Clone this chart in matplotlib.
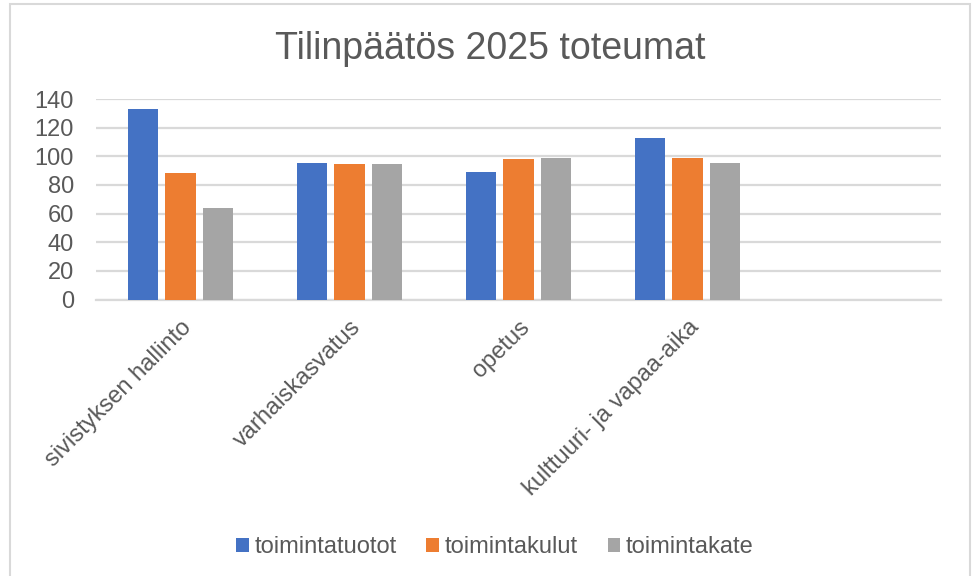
import matplotlib
matplotlib.use("Agg")
import numpy as np
import matplotlib.pyplot as plt
from matplotlib.patches import Rectangle

# ------------------------------------------------------------------ #
#  Data                                                                #
# ------------------------------------------------------------------ #
categories = ["sivistyksen hallinto", "varhaiskasvatus", "opetus",
              "kulttuuri- ja vapaa-aika", ""]
series_names = ["toimintatuotot", "toimintakulut", "toimintakate"]
toimintatuotot = [133, 95.5, 89, 113, np.nan]
toimintakulut = [88.5, 94.5, 98, 99, np.nan]
toimintakate = [64, 94.5, 99, 95.5, np.nan]
y_ticks = [0, 20, 40, 60, 80, 100, 120, 140]

colors = ["#4472C4", "#ED7D31", "#A5A5A5"]
text_color = "#595959"
grid_color = "#D9D9D9"

plt.rcParams["font.family"] = ["Liberation Sans", "DejaVu Sans"]

fig = plt.figure(figsize=(9.74, 5.76), dpi=100)
ax = fig.add_axes([96 / 974, 1 - 299.5 / 576, 845 / 974, 200.5 / 576])

x = np.arange(len(categories))
width = 0.178
offset = 0.222
for i, (vals, name) in enumerate(zip([toimintatuotot, toimintakulut, toimintakate],
                                     series_names)):
    ax.bar(x + (i - 1) * offset, vals, width=width, color=colors[i],
           label=name, zorder=3)

ax.set_xlim(-0.5, len(categories) - 0.5)
ax.set_ylim(0, 140)
ax.set_yticks(y_ticks)
ax.yaxis.grid(True, color=grid_color, linewidth=1.6, zorder=0)
for s in ["top", "right", "left"]:
    ax.spines[s].set_visible(False)
ax.spines["bottom"].set_color(grid_color)
ax.spines["bottom"].set_linewidth(1.6)

ax.tick_params(axis="y", length=0, pad=16, labelsize=17, labelcolor=text_color)
ax.tick_params(axis="x", length=0, pad=12, labelsize=17, labelcolor=text_color)
ax.set_xticks(x)
ax.set_xticklabels(categories, rotation=45, ha="right", rotation_mode="anchor")

fig.text(0.5 + 3 / 974, 1 - 59 / 576, "Tilinpäätös 2025 toteumat", ha="center",
         va="baseline", fontsize=27, color=text_color)

leg = fig.legend(loc="center", bbox_to_anchor=(0.5 + 8 / 974, 1 - 547 / 576), ncol=3,
                 frameon=False, fontsize=17, handlelength=0.53, handleheight=0.53,
                 handletextpad=0.25, columnspacing=1.25)
for t in leg.get_texts():
    t.set_color(text_color)

# chart area border
fig.add_artist(Rectangle((10 / 974, -0.05), 960 / 974, 1.05 - 4.5 / 576,
                         transform=fig.transFigure, fill=False,
                         edgecolor=grid_color, linewidth=1.5))

fig.savefig("out.png", dpi=100, facecolor="white")
